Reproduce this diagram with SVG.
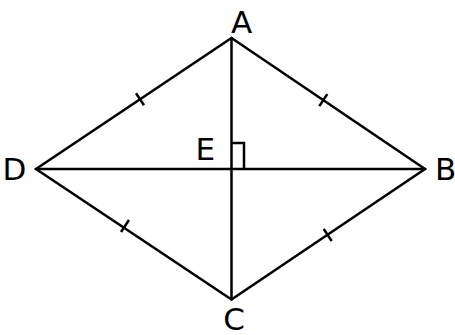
<svg xmlns="http://www.w3.org/2000/svg" width="455" height="335" viewBox="0 0 455 335">
<style>
.ln{stroke:#000;stroke-width:2.5;fill:none;stroke-linecap:round;stroke-linejoin:miter}
.tk{stroke:#000;stroke-width:2.5;fill:none}
.lb{font-family:"DejaVu Sans",sans-serif;font-size:31px;fill:#000}
</style>
<rect width="455" height="335" fill="#fff"/>
<g id="connectors">
<polygon class="ln" points="231.5,38 425,169 231.5,299.5 36,169"/>
<line class="ln" x1="231.5" y1="38" x2="231.5" y2="299.5"/>
<line class="ln" x1="36" y1="169" x2="425" y2="169"/>
<polyline class="tk" points="231.5,143 244,143 244,169" stroke-width="2"/>
<line class="tk" x1="136" y1="93.3" x2="144" y2="105.3"/>
<line class="tk" x1="319.3" y1="106.1" x2="327.3" y2="94.1"/>
<line class="tk" x1="121" y1="232" x2="129" y2="220"/>
<line class="tk" x1="323.7" y1="229" x2="331.7" y2="241"/>
</g>
<g id="A"><text class="lb" x="241.5" y="33" text-anchor="middle">A</text></g>
<g id="B"><text class="lb" x="435" y="180">B</text></g>
<g id="C"><text class="lb" x="234" y="330" text-anchor="middle">C</text></g>
<g id="D"><text class="lb" x="14.5" y="180" text-anchor="middle">D</text></g>
<g id="E"><text class="lb" x="195.5" y="160">E</text></g>
</svg>
